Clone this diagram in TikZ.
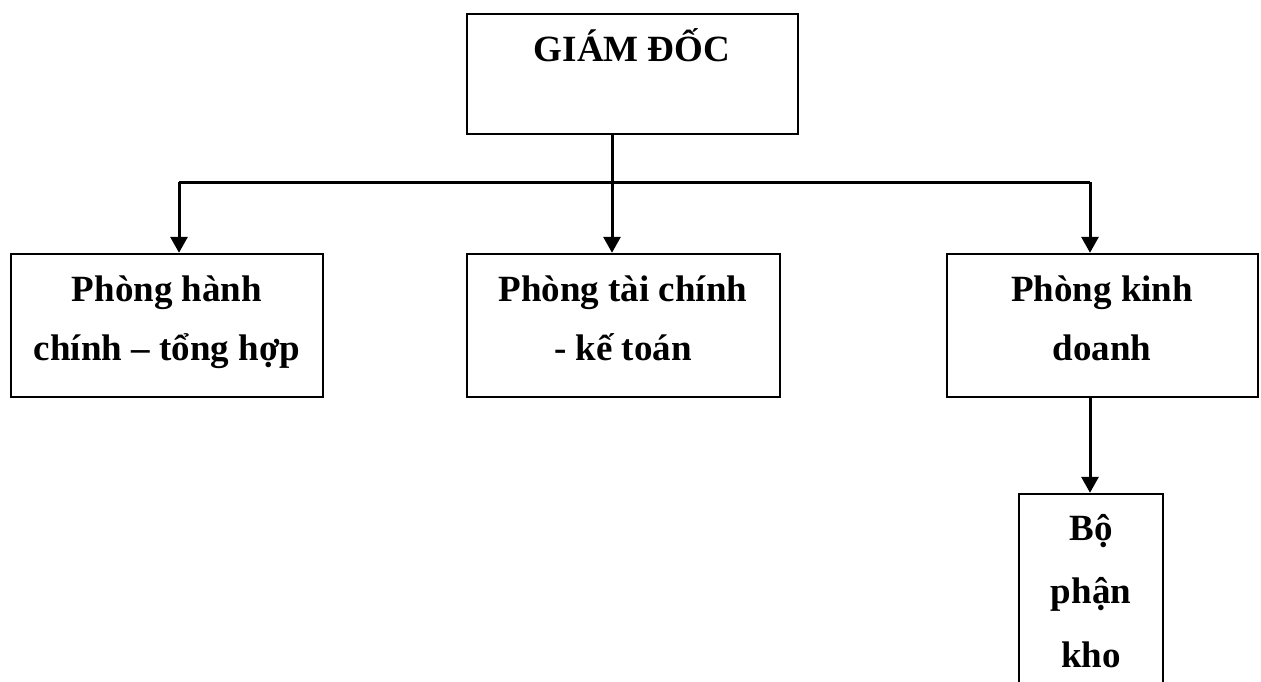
\documentclass[tikz,border=0pt]{standalone}
\usepackage{fontspec}
\setmainfont{Liberation Serif}
\usetikzlibrary{arrows.meta}
\begin{document}
\begin{tikzpicture}[x=1pt,y=-1pt,
  box/.style={draw=black,line width=2.4pt,rectangle,inner sep=0pt,fill=none},
  lbl/.style={anchor=base,inner sep=0pt,font=\fontsize{37}{37}\selectfont\bfseries},
  link/.style={line width=3pt},
  arr/.style={line width=3pt,-{Triangle[length=16pt,width=17pt]}}]
  \useasboundingbox (0,0) rectangle (1261,682);
  \fill[white] (0,0) rectangle (1261,682);
  \clip (0,0) rectangle (1261,682);

  % boxes
  \node[box,minimum width=331pt,minimum height=120pt] (gd) at (632.5,74) {};
  \node[box,minimum width=312pt,minimum height=143pt] (hc) at (167,325.5) {};
  \node[box,minimum width=313pt,minimum height=143pt] (tc) at (623.5,325.5) {};
  \node[box,minimum width=311pt,minimum height=143pt] (kd) at (1102.5,325.5) {};
  \node[box,minimum width=144pt,minimum height=240pt] (kho) at (1091,614) {};

  % labels
  \node[lbl] (tgd) at (632,62) {GIÁM ĐỐC};
  \node[lbl] (thc1) at (167,301) {Phòng hành};
  \node[lbl] (thc2) at (167,360) {chính – tổng hợp};
  \node[lbl] (ttc1) at (623,301) {Phòng tài chính};
  \node[lbl] (ttc2) at (623,360) {- kế toán};
  \node[lbl] (tkd1) at (1102,301) {Phòng kinh};
  \node[lbl] (tkd2) at (1102,360) {doanh};
  \node[lbl] (tk1) at (1091,540) {Bộ};
  \node[lbl] (tk2) at (1091,603) {phận};
  \node[lbl] (tk3) at (1091,667) {kho};

  % connector junctions
  \coordinate (hub) at (612,182);
  \coordinate (jl) at (179,182);
  \coordinate (jr) at (1090,182);

  % connectors
  \draw[link] (hub |- gd.south) -- (hub);
  \draw[link] (jl) -- (jr);
  \draw[arr] (jl) -- (jl |- hc.north);
  \draw[arr] (hub) -- (hub |- tc.north);
  \draw[arr] (jr) -- (jr |- kd.north);
  \draw[arr] (jr |- kd.south) -- (jr |- kho.north);
\end{tikzpicture}
\end{document}
